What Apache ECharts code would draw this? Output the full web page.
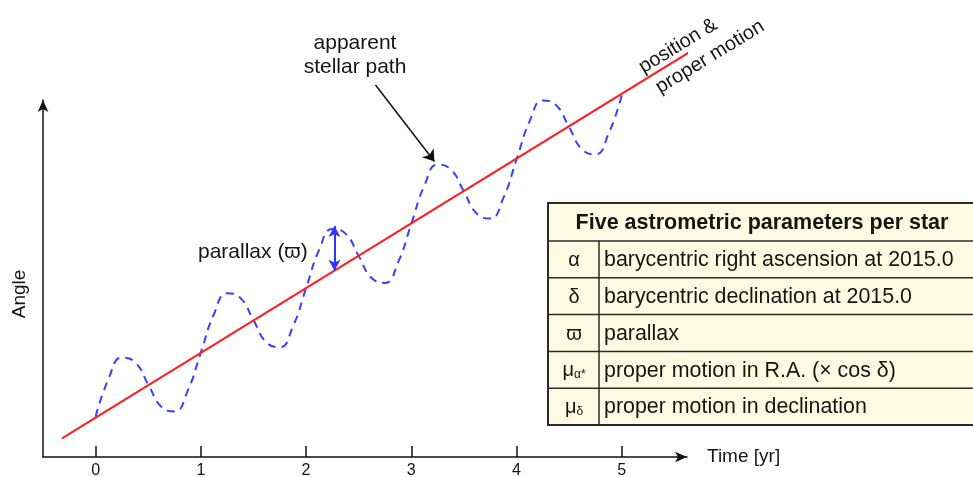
<!DOCTYPE html>
<html>
<head>
<meta charset="utf-8">
<script src="https://cdn.jsdelivr.net/npm/echarts@6/dist/echarts.min.js"></script>
<style>html,body{margin:0;padding:0;background:#fff}#c{width:973px;height:477px}</style>
</head>
<body>
<div id="c"></div>
<script>
const tickValues = [0, 1, 2, 3, 4, 5];
const pathT = [0,0.125,0.25,0.375,0.5,0.625,0.75,0.875,1,1.125,1.25,1.375,1.5,1.625,1.75,1.875,2,2.125,2.25,2.375,2.5,2.625,2.75,2.875,3,3.125,3.25,3.375,3.5,3.625,3.75,3.875,4,4.125,4.25,4.375,4.5,4.625,4.75,4.875,5];
const pathAngle = [4.03,7.87,9.94,9.48,7.25,5.01,4.55,6.62,10.46,14.30,16.37,15.91,13.68,11.44,10.98,13.05,16.89,20.73,22.80,22.34,20.11,17.87,17.41,19.48,23.32,27.16,29.23,28.77,26.54,24.30,23.84,25.91,29.75,33.59,35.66,35.20,32.97,30.73,30.27,32.34,36.18];
const motionT = [-0.32, 6.17];
const motionAngle = [1.87, 43.9];
const parallaxArrow = [[2.27, 18.63], [2.27, 23.1]];
const pathPointer = [[2.66, 37.2], [3.22, 29.55]];
const tableTitle = 'Five astrometric parameters per star';
const tableSymbols = ['α', 'δ', 'ϖ', '{m|μ}{s|α*}', '{m|μ}{s|δ}'];
const tableTexts = ['barycentric right ascension at 2015.0', 'barycentric declination at 2015.0', 'parallax', 'proper motion in R.A. (× cos δ)', 'proper motion in declination'];

const FONT = 'Liberation Sans, Arial, Helvetica, sans-serif';
const TXT = '#151515';

const chart = echarts.init(document.getElementById('c'), null, {renderer: 'canvas'});

// table graphics
const tX = 548, tY = 203, colX = 599, headerH = 38, rowH = 36.8, tW = 440;
const tH = headerH + rowH * tableTexts.length;
const tableEls = [];
tableEls.push({type: 'rect', shape: {x: tX, y: tY, width: tW, height: tH}, style: {fill: '#fffbe2', stroke: '#2a2a2a', lineWidth: 2}, z: 10});
tableEls.push({type: 'text', x: 762, y: tY + headerH / 2 + 1, style: {text: tableTitle, font: 'bold 21.5px ' + FONT, fill: TXT, textAlign: 'center', textVerticalAlign: 'middle'}, z: 11});
for (let i = 0; i < tableTexts.length; i++) {
  const y0 = tY + headerH + rowH * i;
  tableEls.push({type: 'line', shape: {x1: tX, y1: y0, x2: tX + tW, y2: y0}, style: {stroke: '#2a2a2a', lineWidth: 1.5}, z: 11});
  tableEls.push({type: 'text', x: 574, y: y0 + rowH / 2 + 1, style: {
    text: tableSymbols[i], font: '20px ' + FONT, fill: TXT, textAlign: 'center', textVerticalAlign: 'middle',
    rich: {m: {fontSize: 20, fontFamily: FONT, fill: TXT}, s: {fontSize: 12, fontFamily: FONT, fill: TXT, verticalAlign: 'bottom', padding: [8, 0, 0, 0]}}
  }, z: 11});
  tableEls.push({type: 'text', x: 604, y: y0 + rowH / 2 + 1, style: {text: tableTexts[i], font: '21.4px ' + FONT, fill: TXT, textAlign: 'left', textVerticalAlign: 'middle'}, z: 11});
}
tableEls.push({type: 'line', shape: {x1: colX, y1: tY + headerH, x2: colX, y2: tY + tH}, style: {stroke: '#2a2a2a', lineWidth: 1.5}, z: 11});

const option = {
  animation: false,
  backgroundColor: '#ffffff',
  grid: {left: 43, right: 286, top: 100, bottom: 20, containLabel: false, outerBoundsMode: 'none'},
  xAxis: {
    type: 'value', min: -0.5, max: 5.62,
    name: 'Time [yr]', nameLocation: 'end', nameGap: 20,
    nameTextStyle: {fontSize: 19, color: TXT, fontFamily: FONT, verticalAlign: 'middle', padding: [3, 0, 0, 0]},
    axisLine: {show: true, onZero: false, symbol: ['none', 'arrow'], symbolSize: [8, 12], lineStyle: {color: '#111', width: 1.5}},
    axisTick: {show: true, inside: true, length: 11, customValues: tickValues, lineStyle: {color: '#111', width: 1.5}},
    axisLabel: {show: true, customValues: tickValues, fontSize: 16, color: TXT, fontFamily: FONT, margin: 6},
    splitLine: {show: false}
  },
  yAxis: {
    type: 'value', min: 0, max: 35.7,
    axisLine: {show: true, onZero: false, symbol: ['none', 'arrow'], symbolSize: [8, 12], lineStyle: {color: '#111', width: 1.5}},
    axisTick: {show: false}, axisLabel: {show: false}, splitLine: {show: false}
  },
  series: [
    {
      type: 'line', name: 'apparent stellar path',
      data: pathT.map((t, i) => [t, pathAngle[i]]),
      smooth: true, showSymbol: false, clip: false, silent: true, z: 2,
      lineStyle: {color: '#3d3dff', width: 2, type: [8, 6]}
    },
    {
      type: 'line', name: 'position & proper motion',
      data: motionT.map((t, i) => [t, motionAngle[i]]),
      showSymbol: false, clip: false, silent: true, z: 3,
      lineStyle: {color: '#ff1f1f', width: 2},
      markLine: {
        silent: true, symbol: ['arrow', 'arrow'], symbolSize: [9, 11], animation: false,
        label: {show: false},
        lineStyle: {color: '#3333ff', width: 2, type: 'solid'},
        data: [[{coord: parallaxArrow[0]}, {coord: parallaxArrow[1]}]]
      }
    },
    {
      type: 'lines', coordinateSystem: 'cartesian2d', clip: false, silent: true, z: 4,
      symbol: ['none', 'arrow'], symbolSize: 11,
      lineStyle: {color: '#111', width: 1.5, opacity: 1},
      data: [{coords: pathPointer}]
    }
  ],
  graphic: [
    {type: 'text', x: 20, y: 294, rotation: Math.PI / 2, style: {text: 'Angle', font: '19px ' + FONT, fill: TXT, textAlign: 'center', textVerticalAlign: 'middle'}},
    {type: 'text', x: 355, y: 55, style: {text: 'apparent\nstellar path', font: '21px ' + FONT, lineHeight: 24, fill: TXT, textAlign: 'center', textVerticalAlign: 'middle'}},
    {type: 'text', x: 198, y: 252, style: {text: 'parallax (ϖ)', font: '21px ' + FONT, fill: TXT, textAlign: 'left', textVerticalAlign: 'middle'}},
    {type: 'text', x: 678, y: 46, rotation: 0.548, style: {text: 'position &', font: '20px ' + FONT, fill: TXT, textAlign: 'center', textVerticalAlign: 'middle'}},
    {type: 'text', x: 710, y: 57, rotation: 0.548, style: {text: 'proper motion', font: '20px ' + FONT, fill: TXT, textAlign: 'center', textVerticalAlign: 'middle'}},
    {type: 'group', children: tableEls}
  ]
};
chart.setOption(option);
</script>
</body>
</html>
